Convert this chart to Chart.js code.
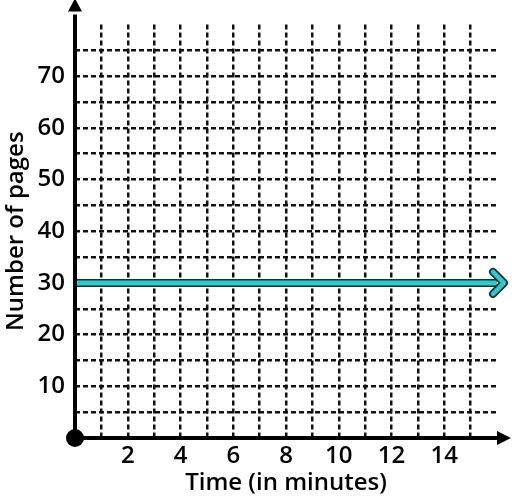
<!DOCTYPE html>
<html><head><meta charset="utf-8">
<script src="https://cdn.jsdelivr.net/npm/chart.js@4"></script>
<style>html,body{margin:0;padding:0;background:#fff}canvas{display:block}</style>
</head><body>
<canvas id="c" width="516" height="499"></canvas>
<script>
// ---- data ----
const xTickLabels = [2, 4, 6, 8, 10, 12, 14];
const yTickLabels = [10, 20, 30, 40, 50, 60, 70];
const lineTime = [0, 16];
const linePages = [30, 30];
const xTitle = 'Time (in minutes)';
const yTitle = 'Number of pages';
const xMax = 16, yMax = 80;

const FONT = "'Open Sans', sans-serif";
const TEAL = '#33c8ca';
const OUTLINE = '#173434';
const points = lineTime.map((t, i) => ({x: t, y: linePages[i]}));

const gridColor = (limit) => (ctx) => {
  const v = ctx.tick ? ctx.tick.value : null;
  return (v === 0 || v === limit) ? 'rgba(0,0,0,0)' : '#111';
};

const axesPlugin = {
  id: 'axesArrows',
  afterDatasetsDraw(chart) {
    const {ctx, scales: {x, y}, chartArea} = chart;
    const ox = x.getPixelForValue(0), oy = y.getPixelForValue(0);
    ctx.save();
    ctx.strokeStyle = '#000'; ctx.fillStyle = '#000'; ctx.lineWidth = 4;
    // y axis
    const yTop = chartArea.top - 14;
    ctx.beginPath(); ctx.moveTo(ox, oy); ctx.lineTo(ox, yTop + 4); ctx.stroke();
    ctx.beginPath(); ctx.moveTo(ox, yTop - 12); ctx.lineTo(ox - 7, yTop + 1); ctx.lineTo(ox + 7, yTop + 1); ctx.closePath(); ctx.fill();
    // x axis
    const xEnd = chartArea.right;
    ctx.beginPath(); ctx.moveTo(ox, oy); ctx.lineTo(xEnd + 2, oy); ctx.stroke();
    ctx.beginPath(); ctx.moveTo(xEnd + 14, oy); ctx.lineTo(xEnd, oy - 7); ctx.lineTo(xEnd, oy + 7); ctx.closePath(); ctx.fill();
    // origin dot
    ctx.beginPath(); ctx.arc(ox, oy, 9, 0, Math.PI * 2); ctx.fill();
    // teal chevron at end of data line
    const meta = chart.getDatasetMeta(0);
    const last = meta.data[meta.data.length - 1];
    const tx = last.x + 7, ty = last.y;
    ctx.lineCap = 'round'; ctx.lineJoin = 'round';
    ctx.beginPath(); ctx.moveTo(tx - 11, ty - 11); ctx.lineTo(tx, ty); ctx.lineTo(tx - 11, ty + 11);
    ctx.strokeStyle = OUTLINE; ctx.lineWidth = 8; ctx.stroke();
    ctx.strokeStyle = TEAL; ctx.lineWidth = 4.5; ctx.stroke();
    ctx.restore();
  }
};

new Chart(document.getElementById('c'), {
  type: 'line',
  data: {
    datasets: [
      {data: points, borderColor: TEAL, borderWidth: 5, pointRadius: 0, clip: false, borderCapStyle: 'butt'},
      {data: points, borderColor: OUTLINE, borderWidth: 8, pointRadius: 0, clip: false, borderCapStyle: 'butt'}
    ]
  },
  options: {
    responsive: false,
    animation: false,
    events: [],
    layout: {padding: {left: 0, top: 17, right: 19, bottom: 0}},
    plugins: {legend: {display: false}, tooltip: {enabled: false}},
    scales: {
      x: {
        type: 'linear', min: 0, max: xMax,
        afterFit(s) { s.height = 61; },
        grid: {color: gridColor(xMax), lineWidth: 2.5, drawTicks: false},
        border: {display: false, dash: [5, 3]},
        ticks: {
          stepSize: 1, padding: 4, color: '#000', font: {family: FONT, size: 24, weight: '600'},
          maxRotation: 0, autoSkip: false,
          callback: (v) => xTickLabels.includes(v) ? String(v) : ''
        },
        title: {display: true, text: xTitle, color: '#000', font: {family: FONT, size: 24, weight: '600'}, padding: {top: 0, bottom: 1}}
      },
      y: {
        type: 'linear', min: 0, max: yMax,
        afterFit(s) { s.width = 75; },
        grid: {color: gridColor(yMax), lineWidth: 2.5, drawTicks: false},
        border: {display: false, dash: [5, 3]},
        ticks: {
          stepSize: 5, padding: 10, color: '#000', font: {family: FONT, size: 24, weight: '600'},
          autoSkip: false,
          callback: (v) => yTickLabels.includes(v) ? String(v) : ''
        },
        title: {display: true, text: yTitle, color: '#000', font: {family: FONT, size: 24, weight: '600'}, padding: {top: 2, bottom: 0}}
      }
    }
  },
  plugins: [axesPlugin]
});
</script>
</body></html>
